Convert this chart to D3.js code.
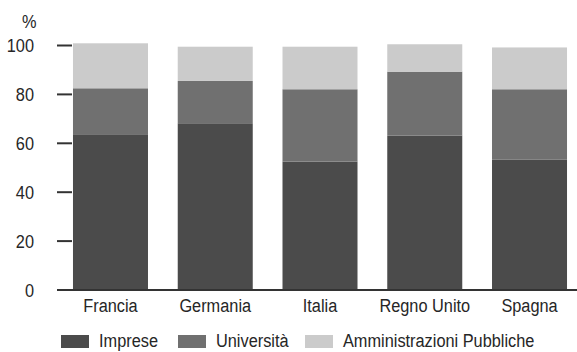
<!DOCTYPE html>
<html><head><meta charset="utf-8">
<script src="https://cdn.jsdelivr.net/npm/d3@7"></script>
<style>body{margin:0;background:#fff}svg{display:block}text{font-family:"Liberation Sans",Arial,sans-serif;fill:#262626}</style>
</head><body><svg id="c" width="577" height="352"></svg>
<script>
const categories = ["Francia","Germania","Italia","Regno Unito","Spagna"];
const seriesNames = ["Imprese","Università","Amministrazioni Pubbliche"];
const imprese = [63.5, 68.0, 52.3, 62.9, 53.2];
const universita = [18.8, 17.3, 29.6, 26.2, 28.7];
const amministrazioni = [18.4, 14.0, 17.4, 11.2, 17.1];
const yTicks = [0,20,40,60,80,100];
const colors = ["#4b4b4b","#707070","#cbcbcb"];
const SX = 0.86; // condensed look
const FS = 19;

function condense(sel){
  sel.each(function(){
    const t = d3.select(this);
    const x0 = +t.attr("x") || 0;
    t.attr("x", x0 / SX).attr("transform", `scale(${SX},1)`);
  });
}

const rows = categories.map((c,i)=>({cat:c, "Imprese":imprese[i], "Università":universita[i], "Amministrazioni Pubbliche":amministrazioni[i]}));
const svg = d3.select("#c");
const x = d3.scaleBand().domain(categories).range([58.1, 581.9]).paddingInner(0.284).paddingOuter(0.142);
const y = d3.scaleLinear().domain([0,100]).range([289.5, 45]);
const stack = d3.stack().keys(seriesNames)(rows);

svg.append("g").selectAll("g").data(stack).join("g").attr("fill",(d,i)=>colors[i])
  .selectAll("rect").data(d=>d).join("rect")
  .attr("x",d=>x(d.data.cat)).attr("width",x.bandwidth())
  .attr("y",d=>y(d[1])).attr("height",d=>y(d[0])-y(d[1]));

// y axis ticks
const yAxis = svg.append("g").attr("transform","translate(72,0)")
  .call(d3.axisLeft(y).tickValues(yTicks).tickSize(15).tickPadding(23));
yAxis.select(".domain").remove();
yAxis.selectAll("line").attr("stroke","#333").attr("stroke-width",2).filter(d=>d===0).remove();
yAxis.selectAll("text").attr("font-size",FS).style("font-family",null).attr("fill","#262626").attr("dy","0.36em").call(condense);
svg.append("text").attr("x",22).attr("y",28).attr("font-size",FS).text("%").call(condense);

// baseline
svg.append("line").attr("x1",57).attr("x2",577).attr("y1",y(0)+0.5).attr("y2",y(0)+0.5).attr("stroke","#333").attr("stroke-width",2);

// x axis labels
const xAxis = svg.append("g").attr("transform",`translate(0,${y(0)})`)
  .call(d3.axisBottom(x).tickSize(0).tickPadding(9));
xAxis.select(".domain").remove();
xAxis.selectAll("text").attr("font-size",FS).style("font-family",null).attr("fill","#262626").call(condense);

// legend
const legX = [61, 178, 305];
const lg = svg.append("g");
seriesNames.forEach((n,i)=>{
  lg.append("rect").attr("x",legX[i]).attr("y",335).attr("width",28).attr("height",13).attr("fill",colors[i]);
  lg.append("text").attr("x",legX[i]+38).attr("y",347).attr("font-size",FS).text(n).call(condense);
});
</script></body></html>
